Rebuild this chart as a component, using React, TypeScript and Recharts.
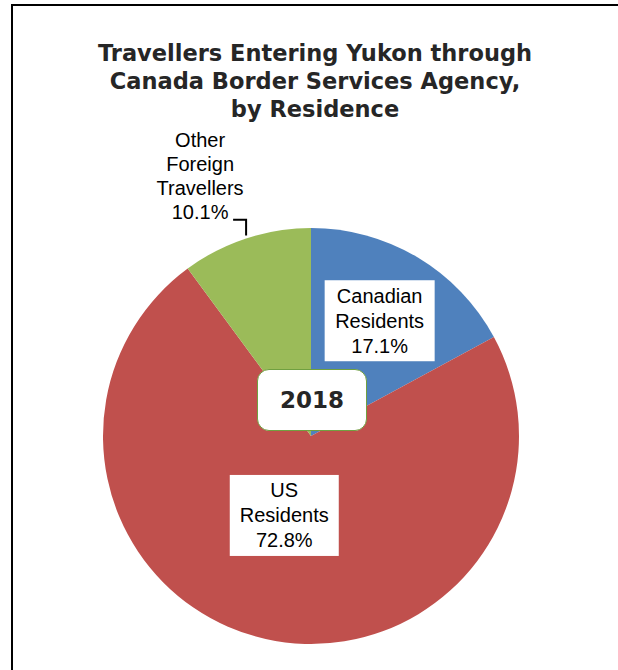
import React from "react";
import { PieChart, Pie, Cell } from "recharts";

const categories = ["Canadian Residents", "US Residents", "Other Foreign Travellers"];
const shares = [17.1, 72.8, 10.1];
const labelLines = [["Canadian", "Residents"], ["US", "Residents"], ["Other", "Foreign", "Travellers"]];
const titleLines = ["Travellers Entering Yukon through", "Canada Border Services Agency,", "by Residence"];
const yearLabel = "2018";

const colors = ["#4F81BD", "#C0504D", "#9BBB59"];
// label placement: radius factor relative to outer radius and angle shift (deg)
const placement = [
  { rf: 0.645, da: 0, box: true, w: 110, h: 81 },
  { rf: 0.403, da: -6, box: true, w: 109, h: 81 },
  { rf: 1.36, da: 4.9, box: false, w: 0, h: 0 },
];

const data = categories.map((name, i) => ({ name, value: shares[i] }));

const RAD = Math.PI / 180;

const renderLabel = (props: any) => {
  const { cx, cy, midAngle, outerRadius, index, value } = props;
  const p = placement[index];
  const a = (midAngle + p.da) * RAD;
  const r = outerRadius * p.rf;
  const x = cx + r * Math.cos(a);
  const y = cy - r * Math.sin(a);
  const lines = [...labelLines[index], `${value.toFixed(1)}%`];
  const step = p.box ? 25 : 24;
  const y0 = y - ((lines.length - 1) * step) / 2;
  let leader = null;
  if (!p.box) {
    const ea = midAngle * RAD;
    const ex = cx + outerRadius * Math.cos(ea);
    const ey = cy - outerRadius * Math.sin(ea);
    const ly = y0 + (lines.length - 1) * step + 8;
    leader = (
      <path d={`M${ex},${ey - 3} L${ex},${ly} L${ex - 13},${ly}`} stroke="#000" strokeWidth={2} fill="none" />
    );
  }
  return (
    <g key={`lbl-${index}`}>
      {p.box && <rect x={x - p.w / 2} y={y - p.h / 2} width={p.w} height={p.h} fill="#fff" />}
      {leader}
      {lines.map((t, i) => (
        <text
          key={i}
          x={x}
          y={y0 + i * step}
          textAnchor="middle"
          dominantBaseline="central"
          fontFamily="'Liberation Sans', Arial, sans-serif"
          fontSize={20}
          fill="#000"
        >
          {t}
        </text>
      ))}
    </g>
  );
};

export default function App() {
  return (
    <div style={{ position: "absolute", left: 0, top: 0, width: 618, height: 670, overflow: "hidden", background: "#fff" }}>
      <div
        style={{
          position: "absolute",
          left: 11,
          top: 4,
          width: 640,
          height: 720,
          border: "2px solid #000",
          boxSizing: "border-box",
        }}
      />
      <div style={{ position: "absolute", left: 0, top: 0 }}>
        <PieChart width={618} height={670} margin={{ top: 0, right: 0, bottom: 0, left: 0 }}>
          <Pie
            data={data}
            dataKey="value"
            nameKey="name"
            cx={311}
            cy={436}
            outerRadius={208}
            startAngle={90}
            endAngle={-270}
            stroke="none"
            label={renderLabel}
            labelLine={false}
            isAnimationActive={false}
          >
            {data.map((d, i) => (
              <Cell key={d.name} fill={colors[i]} />
            ))}
          </Pie>
        </PieChart>
      </div>
      <div
        style={{
          position: "absolute",
          left: 0,
          top: 39,
          width: 630,
          textAlign: "center",
          fontFamily: "'DejaVu Sans', sans-serif",
          fontWeight: 700,
          fontSize: 22.5,
          lineHeight: "28px",
          color: "#262626",
        }}
      >
        {titleLines.map((t) => (
          <div key={t}>{t}</div>
        ))}
      </div>
      <div
        style={{
          position: "absolute",
          left: 257,
          top: 369,
          width: 110,
          height: 62,
          boxSizing: "border-box",
          border: "1.5px solid #70A040",
          borderRadius: 12,
          background: "#fff",
          display: "flex",
          alignItems: "center",
          justifyContent: "center",
          fontFamily: "'DejaVu Sans', sans-serif",
          fontWeight: 700,
          fontSize: 23,
          color: "#262626",
        }}
      >
        {yearLabel}
      </div>
    </div>
  );
}
